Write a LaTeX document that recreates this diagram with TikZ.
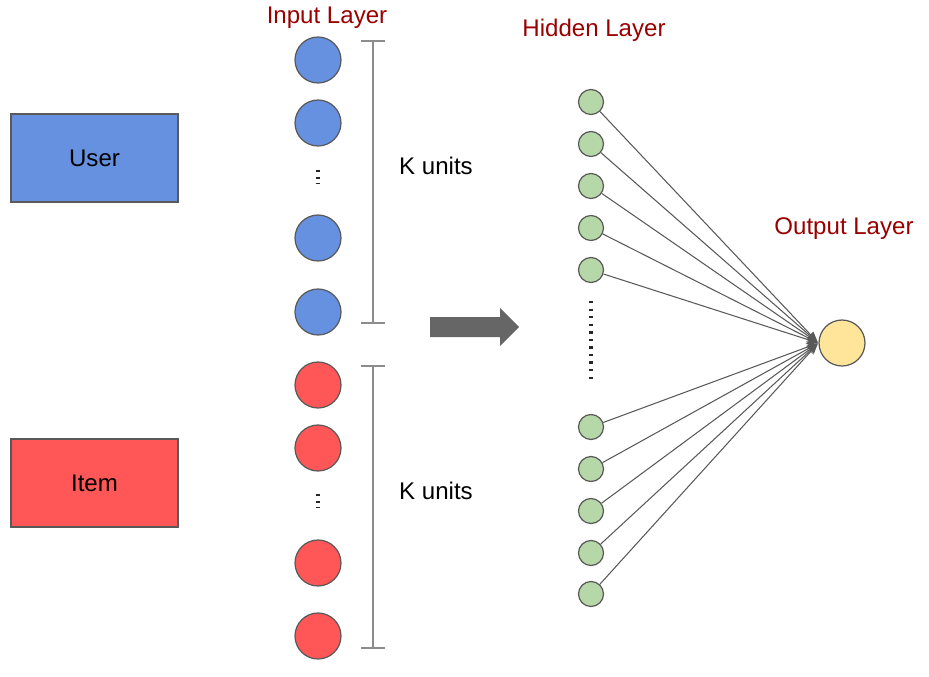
\documentclass[tikz,border=0pt]{standalone}
\usepackage{fontspec}
\setmainfont{Liberation Sans}
\usepackage{tikz}
\usetikzlibrary{arrows.meta}
\definecolor{userblue}{HTML}{6691E0}
\definecolor{itemred}{HTML}{FF5757}
\definecolor{hidgreen}{HTML}{B6D7A8}
\definecolor{outyellow}{HTML}{FFE599}
\definecolor{labelred}{HTML}{990000}
\definecolor{edgegray}{HTML}{595959}
\tikzset{>=Stealth}
\tikzset{%
    inbox/.style={draw=edgegray, line width=0.7pt, minimum width=3.34cm, minimum height=1.76cm},
    unit/.style={circle, draw=edgegray, line width=0.7pt, minimum size=0.92cm, inner sep=0pt},
    hid/.style={circle, draw=edgegray, fill=hidgreen, line width=0.7pt, minimum size=0.5cm, inner sep=0pt},
    layer/.style={text=labelred},
    brace/.style={draw=gray!90, line width=1pt},
    vdot/.style={line width=2.2pt, dash pattern=on 1.3pt off 2.5pt, black!85}
}

\begin{document}
\begin{tikzpicture}[x=0.02cm, y=-0.02cm, font=\fontsize{13.7}{16}\selectfont]
\useasboundingbox (0,0) rectangle (929,676);

\node[inbox, fill=userblue] (user) at (94.5,158) {User};
\node[inbox, fill=itemred] (item) at (94.5,483) {Item};

\node[layer] (inlab) at (327,18) {Input Layer};
\node[layer] (hidlab) at (594,30) {Hidden Layer};
\node[layer] (outlab) at (844,229) {Output Layer};

% input units
\node[unit, fill=userblue] (u1) at (318,60) {};
\node[unit, fill=userblue] (u2) at (318,123) {};
\node[unit, fill=userblue] (u3) at (318,238) {};
\node[unit, fill=userblue] (u4) at (318,312) {};
\draw[vdot] (318,170) -- (318,184);

\node[unit, fill=itemred] (i1) at (318,385) {};
\node[unit, fill=itemred] (i2) at (318,448) {};
\node[unit, fill=itemred] (i3) at (318,563) {};
\node[unit, fill=itemred] (i4) at (318,636) {};
\draw[vdot] (318,494) -- (318,508);

% K units brackets
\draw[brace] (373,41) -- (373,323);
\draw[brace] (361,41) -- (385,41);
\draw[brace] (361,323) -- (385,323);
\node (ku) at (436,166) {K units};

\draw[brace] (373,366) -- (373,648);
\draw[brace] (361,366) -- (385,366);
\draw[brace] (361,648) -- (385,648);
\node (ki) at (436,491) {K units};

% big arrow
\fill[black!60] (430,317) -- (500,317) -- (500,308) -- (519,327) -- (500,346) -- (500,337) -- (430,337) -- cycle;

% output
\node[unit, fill=outyellow] (out) at (842,343) {};

% hidden layer
\foreach \n/\y in {1/102,2/144,3/186,4/228,5/270,6/427,7/469,8/511,9/553,10/594} {
    \node[hid] (h\n) at (591,\y) {};
    \draw[-{Stealth[length=0.22cm, width=0.17cm]}, edgegray, line width=0.6pt, shorten >=0.5pt] (h\n) -- (out.west);
}
\draw[vdot, dash pattern=on 1.3pt off 3pt] (591,301) -- (591,380);
\end{tikzpicture}
\end{document}
